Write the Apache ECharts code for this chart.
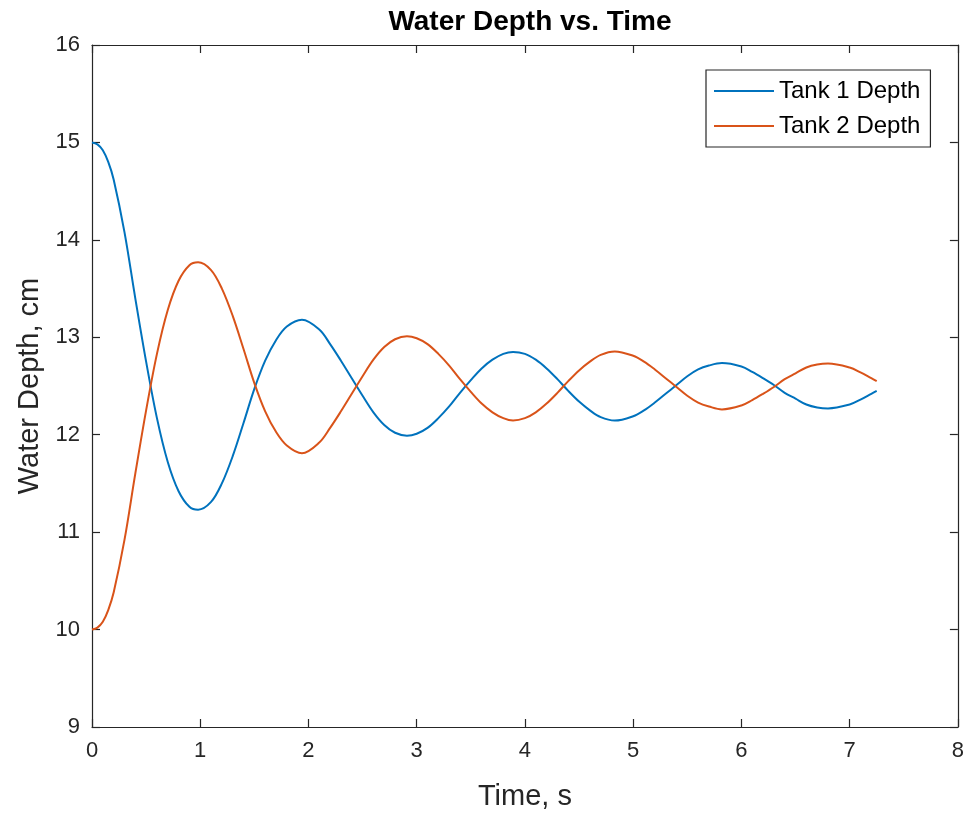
<!DOCTYPE html>
<html>
<head>
<meta charset="utf-8">
<script src="https://cdn.jsdelivr.net/npm/echarts@6/dist/echarts.min.js"></script>
<style>
  html, body { margin: 0; padding: 0; background: #fff; }
  #chart { width: 967px; height: 816px; }
</style>
</head>
<body>
<div id="chart"></div>
<script>
// ---- data ----
// sample times, with extra points at the turning points of the curves
const timeS = [
  0.0, 0.05, 0.1, 0.15, 0.2, 0.3, 0.4, 0.5, 0.6, 0.7, 0.8, 0.9, 0.98,
  1.1, 1.2, 1.3, 1.4, 1.5, 1.6, 1.7, 1.8, 1.94,
  2.1, 2.2, 2.3, 2.4, 2.5, 2.6, 2.7, 2.8, 2.91,
  3.0, 3.1, 3.2, 3.3, 3.4, 3.5, 3.6, 3.7, 3.8, 3.89,
  4.0, 4.1, 4.2, 4.3, 4.4, 4.5, 4.6, 4.7, 4.83,
  5.0, 5.1, 5.2, 5.3, 5.4, 5.5, 5.6, 5.7, 5.82,
  6.0, 6.1, 6.2, 6.3, 6.4, 6.5, 6.6, 6.7, 6.8,
  7.0, 7.1, 7.2, 7.25
];

const tank1Depth = [
  15.00, 14.98, 14.92, 14.80, 14.62, 14.08, 13.40, 12.75, 12.17, 11.72, 11.42, 11.26, 11.23,
  11.31, 11.50, 11.78, 12.12, 12.47, 12.76, 12.97, 13.11, 13.18,
  13.08, 12.93, 12.76, 12.58, 12.40, 12.23, 12.10, 12.02, 11.99,
  12.01, 12.07, 12.17, 12.29, 12.43, 12.56, 12.68, 12.77, 12.83, 12.85,
  12.83, 12.77, 12.68, 12.57, 12.45, 12.34, 12.25, 12.18, 12.145,
  12.19, 12.25, 12.33, 12.42, 12.51, 12.60, 12.67, 12.71, 12.735,
  12.70, 12.645, 12.58, 12.51, 12.43, 12.37, 12.31, 12.28, 12.27,
  12.31, 12.36, 12.42, 12.45
];

const tank2Depth = [
  10.00, 10.02, 10.08, 10.20, 10.38, 10.92, 11.60, 12.25, 12.83, 13.28, 13.58, 13.74, 13.77,
  13.69, 13.50, 13.22, 12.88, 12.53, 12.24, 12.03, 11.89, 11.81,
  11.92, 12.07, 12.24, 12.42, 12.60, 12.77, 12.90, 12.98, 13.01,
  12.99, 12.93, 12.83, 12.71, 12.57, 12.44, 12.32, 12.23, 12.17, 12.145,
  12.17, 12.23, 12.32, 12.43, 12.55, 12.66, 12.75, 12.82, 12.855,
  12.81, 12.75, 12.67, 12.58, 12.49, 12.40, 12.33, 12.29, 12.26,
  12.30, 12.355, 12.42, 12.49, 12.57, 12.63, 12.69, 12.72, 12.73,
  12.69, 12.64, 12.58, 12.55
];

const seriesNames = ['Tank 1 Depth', 'Tank 2 Depth'];
const xTicks = { min: 0, max: 8, interval: 1 };
const yTicks = { min: 9, max: 16, interval: 1 };

// ---- chart ----
const FONT = '"Liberation Sans", Arial, Helvetica, sans-serif';
const INK = '#262626';

const chart = echarts.init(document.getElementById('chart'), null, { renderer: 'canvas' });

function pairs(ys) {
  return timeS.map((t, i) => [t, ys[i]]);
}

// one side of the MATLAB-style box: line + inward ticks
function boxAxis(base, extra) {
  return Object.assign({
    type: 'value',
    min: base.min,
    max: base.max,
    interval: base.interval,
    splitLine: { show: false },
    axisLine: { show: true, onZero: false, lineStyle: { color: INK, width: 1.2 } },
    axisTick: { show: true, inside: true, length: 8, lineStyle: { color: INK, width: 1.2 } },
  }, extra);
}

function lineSeries(name, ys, color) {
  return {
    name: name,
    type: 'line',
    data: pairs(ys),
    showSymbol: false,
    smooth: 0.35,
    lineStyle: { color: color, width: 2 },
    itemStyle: { color: color },
  };
}

chart.setOption({
  animation: false,
  backgroundColor: '#ffffff',
  title: {
    text: 'Water Depth vs. Time',
    left: 525,
    top: 3,
    textAlign: 'center',
    textStyle: { fontFamily: FONT, fontWeight: 'bold', fontSize: 28, color: '#000' },
  },
  grid: { left: 92, right: 9, top: 45, bottom: 87, containLabel: false },
  legend: {
    orient: 'vertical',
    left: 706,
    top: 70,
    padding: [9, 10, 9, 8],
    itemGap: 11,
    itemWidth: 60,
    itemHeight: 2,
    icon: 'rect',
    borderColor: INK,
    borderWidth: 1.2,
    backgroundColor: '#fff',
    textStyle: { fontFamily: FONT, fontSize: 24, color: '#000' },
    data: seriesNames,
  },
  xAxis: [
    boxAxis(xTicks, {
      position: 'bottom',
      name: 'Time, s',
      nameLocation: 'middle',
      nameGap: 55,
      nameTextStyle: { fontFamily: FONT, fontSize: 29, color: INK },
      axisLabel: { fontFamily: FONT, fontSize: 22, color: INK, margin: 13 },
    }),
    boxAxis(xTicks, { position: 'top', axisLabel: { show: false } }),
  ],
  yAxis: [
    boxAxis(yTicks, {
      position: 'left',
      name: 'Water Depth, cm',
      nameLocation: 'middle',
      nameGap: 47,
      nameTextStyle: { fontFamily: FONT, fontSize: 29, color: INK },
      axisLabel: { fontFamily: FONT, fontSize: 22, color: INK, margin: 12 },
    }),
    boxAxis(yTicks, { position: 'right', axisLabel: { show: false } }),
  ],
  series: [
    lineSeries(seriesNames[0], tank1Depth, '#0072BD'),
    lineSeries(seriesNames[1], tank2Depth, '#D95319'),
  ],
});
</script>
</body>
</html>
